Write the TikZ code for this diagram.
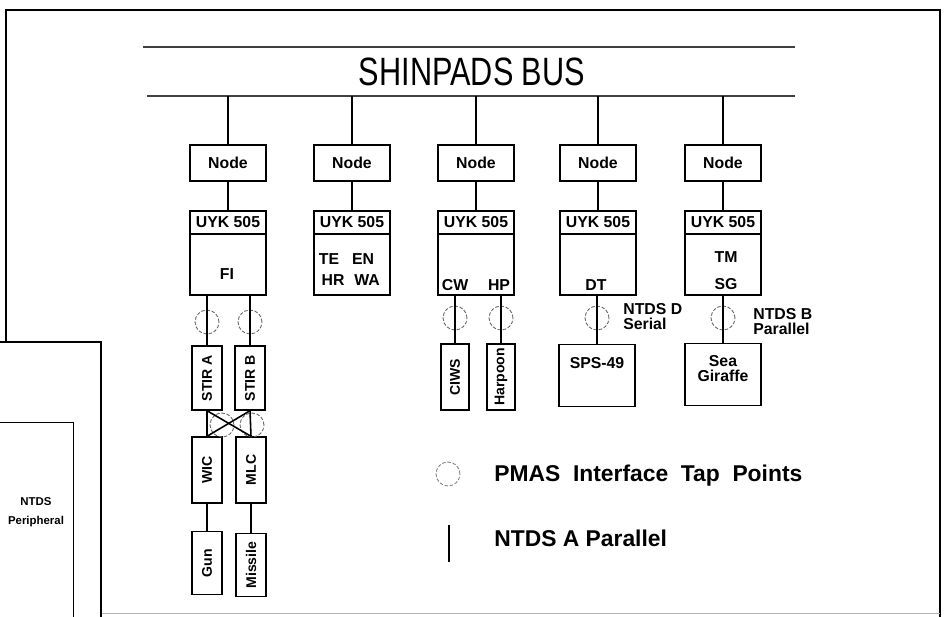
\documentclass[tikz,border=0pt]{standalone}
\usepackage{fontspec}
\setmainfont{Liberation Sans}
\usetikzlibrary{positioning}

\begin{document}
\begin{tikzpicture}[
    x=0.02cm, y=-0.02cm,
    every node/.style={font=\bfseries\fontsize{9}{10}\selectfont},
    nodebox/.style={
        rectangle,
        draw,
        line width=0.8pt,
        minimum width=1.52cm,
        minimum height=0.72cm,
        inner sep=0pt
    },
    uykbox/.style={
        rectangle,
        draw,
        line width=0.8pt,
        minimum width=1.52cm,
        minimum height=1.68cm,
        inner sep=0pt
    },
    uykhead/.style={
        rectangle,
        draw,
        line width=0.8pt,
        minimum width=1.52cm,
        minimum height=0.46cm,
        inner sep=0pt,
        anchor=north
    },
    vbox/.style={
        rectangle,
        draw,
        line width=0.8pt,
        rotate=90,
        minimum height=0.6cm,
        inner sep=0pt,
        font=\bfseries\fontsize{8}{9}\selectfont
    },
    devbox/.style={
        rectangle,
        draw,
        line width=0.8pt,
        minimum width=1.52cm,
        minimum height=1.24cm,
        inner sep=0pt,
        anchor=north
    },
    tap/.style={
        circle,
        draw=black!60,
        dash pattern=on 2pt off 1pt,
        line width=0.5pt,
        minimum size=0.48cm,
        inner sep=0pt
    },
    lbl/.style={inner sep=1pt, align=center, font=\bfseries\fontsize{9}{9}\selectfont},
    note/.style={anchor=west, align=left, inner sep=0pt, font=\bfseries\fontsize{9}{8.5}\selectfont},
    legend/.style={anchor=west, inner sep=0pt, font=\bfseries\fontsize{13}{15}\selectfont},
    link/.style={line width=0.9pt},
    busline/.style={line width=0.7pt, draw=black!75},
    frame/.style={line width=1.6pt}
]
\useasboundingbox (0,0) rectangle (946,616);

% ==================== OUTER FRAME AND PERIPHERAL INSET ====================
\draw[frame] (6,640) -- (6,10) -- (940,10) -- (940,640);
\draw[black!30] (6,613) -- (940,613);
\filldraw[frame, fill=white] (-10,342) rectangle (101,640);
\draw[line width=0.5pt] (-10,422) -- (73,422) -- (73,640);
\node (periph) [align=center, font=\bfseries\fontsize{6.5}{11}\selectfont] at (36,512) {NTDS\\Peripheral};

% ==================== SHINPADS BUS ====================
\coordinate (bus_top_l) at (143,47);
\coordinate (bus_top_r) at (795,47);
\coordinate (bus_l) at (147,96);
\coordinate (bus_r) at (795,96);
\draw[busline] (bus_top_l) -- (bus_top_r);
\draw[busline] (bus_l) -- (bus_r);
\node (bus_title) [font=\fontsize{18}{20}\selectfont] at (472,72) {\scalebox{0.97}[1.25]{SHINPADS BUS}};

% ==================== NODES AND UYK 505 PROCESSORS ====================
\node (n1) [nodebox] at (228,163) {Node};
\node (n2) [nodebox] at (352,163) {Node};
\node (n3) [nodebox] at (476,163) {Node};
\node (n4) [nodebox] at (598,163) {Node};
\node (n5) [nodebox] at (723,163) {Node};

\node (u1) [uykbox] at (228,253) {};
\node (u2) [uykbox] at (352,253) {};
\node (u3) [uykbox] at (476,253) {};
\node (u4) [uykbox] at (598,253) {};
\node (u5) [uykbox] at (723,253) {};

\node (u1h) [uykhead] at (u1.north) {UYK 505};
\node (u2h) [uykhead] at (u2.north) {UYK 505};
\node (u3h) [uykhead] at (u3.north) {UYK 505};
\node (u4h) [uykhead] at (u4.north) {UYK 505};
\node (u5h) [uykhead] at (u5.north) {UYK 505};

\node (u1_fi) at (227,274) {FI};
\node (u2_te) at (329,259) {TE};
\node (u2_en) at (363,259) {EN};
\node (u2_hr) at (333,280) {HR};
\node (u2_wa) at (367,280) {WA};
\node (u3_cw) at (455,285) {CW};
\node (u3_hp) at (499,285) {HP};
\node (u4_dt) at (596,285) {DT};
\node (u5_tm) at (726,257) {TM};
\node (u5_sg) at (726,284) {SG};

\draw[link] (n1.north) -- (n1.north |- bus_l);
\draw[link] (n2.north) -- (n2.north |- bus_l);
\draw[link] (n3.north) -- (n3.north |- bus_l);
\draw[link] (n4.north) -- (n4.north |- bus_l);
\draw[link] (n5.north) -- (n5.north |- bus_l);
\draw[link] (n1) -- (u1);
\draw[link] (n2) -- (u2);
\draw[link] (n3) -- (u3);
\draw[link] (n4) -- (u4);
\draw[link] (n5) -- (u5);

% ==================== FI: STIR / WIC / MLC CHAIN ====================
\node (stira) [vbox, minimum width=1.28cm] at (207,378) {STIR A};
\node (stirb) [vbox, minimum width=1.28cm] at (250,378) {STIR B};
\node (wic) [vbox, minimum width=1.32cm] at (207,470) {WIC};
\node (mlc) [vbox, minimum width=1.32cm] at (251,470) {MLC};
\node (gun) [vbox, minimum width=1.26cm] at (207,563) {Gun};
\node (missile) [vbox, minimum width=1.26cm] at (251,565) {Missile};

\node (tap_a) [tap] at (207,322) {};
\node (tap_b) [tap] at (250,322) {};
\node (tap_x1) [tap] at (222,425) {};
\node (tap_x2) [tap] at (252,425) {};

\draw[link] (u1.south -| stira) -- (stira.east);
\draw[link] (u1.south -| stirb) -- (stirb.east);
\draw[link] (stira.west) -- (wic.east);
\draw[link] (stirb.west) -- (mlc.east);
\draw[link] (stira.west) -- (mlc.east);
\draw[link] (stirb.west) -- (wic.east);
\draw[link] (wic) -- (gun);
\draw[link] (mlc) -- (missile);

% ==================== CW / HP ====================
\node (ciws) [vbox, minimum width=1.32cm, minimum height=0.56cm] at (455,377) {CIWS};
\node (harpoon) [vbox, minimum width=1.32cm, minimum height=0.56cm] at (501,377) {Harpoon};
\node (tap_cw) [tap] at (455,318) {};
\node (tap_hp) [tap] at (501,318) {};
\draw[link] (u3.south -| ciws) -- (ciws.east);
\draw[link] (u3.south -| harpoon) -- (harpoon.east);

% ==================== DT / SPS-49 ====================
\node (sps) [devbox] at (597,344) {};
\node (sps_lbl) [lbl, below=0.22cm of sps.north] {SPS-49};
\node (tap_dt) [tap] at (597,318) {};
\draw[link] (u4.south -| sps) -- (sps.north);
\node (ntds_d) [note] at (623,317) {NTDS D\\Serial};

% ==================== TM SG / SEA GIRAFFE ====================
\node (seag) [devbox] at (723,343) {};
\node (seag_lbl) [lbl, below=0.2cm of seag.north] {Sea\\Giraffe};
\node (tap_sg) [tap] at (723,318) {};
\draw[link] (u5.south -| seag) -- (seag.north);
\node (ntds_b) [note] at (753,322) {NTDS B\\Parallel};

% ==================== LEGEND ====================
\node (legend_tap) [tap, draw=black!50] at (448,474) {};
\node (legend_tap_txt) [legend] at (494,476) {PMAS\ \ Interface\ \ Tap\ \ Points};
\coordinate (legend_line_top) at (449,525);
\coordinate (legend_line_bot) at (449,562);
\draw[link] (legend_line_top) -- (legend_line_bot);
\node (legend_line_txt) [legend] at (494,538) {NTDS A Parallel};

\end{tikzpicture}
\end{document}
